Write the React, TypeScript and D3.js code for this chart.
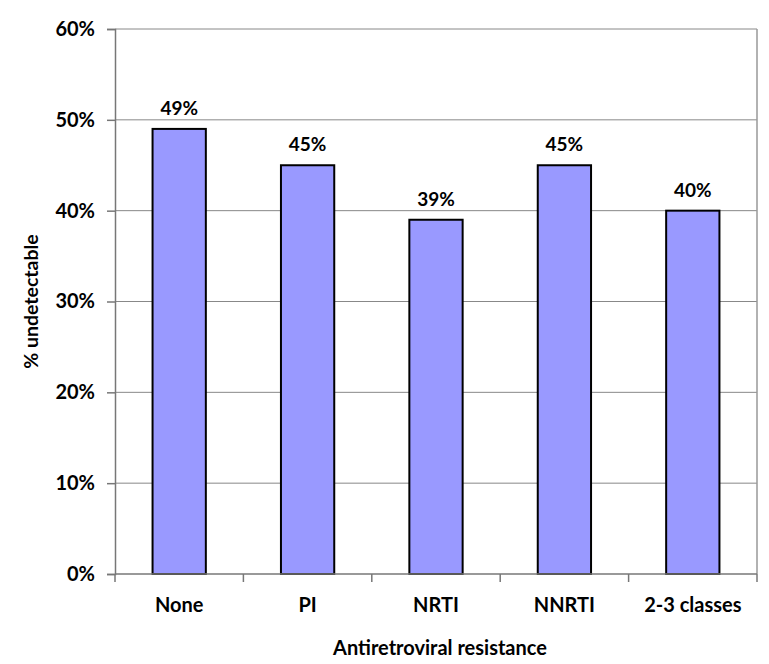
import React, { useRef, useEffect } from 'react';
import * as d3 from 'd3';

const categories = ['None', 'PI', 'NRTI', 'NNRTI', '2-3 classes'];
const values = [49, 45, 39, 45, 40];
const yTicks = [0, 10, 20, 30, 40, 50, 60];

const FONT = 'Lato, "Open Sans", sans-serif';

const App: React.FC = () => {
  const svgRef = useRef<SVGSVGElement>(null);
  const width = 769;
  const height = 664;

  useEffect(() => {
    if (!svgRef.current) return;
    const svg = d3.select(svgRef.current);
    svg.selectAll('*').remove();

    const margin = { top: 29, right: 12, bottom: 90, left: 115 };
    const innerWidth = width - margin.left - margin.right;
    const innerHeight = height - margin.top - margin.bottom;

    const x = d3.scaleBand<string>()
      .domain(categories)
      .range([0, innerWidth])
      .paddingInner(0.585)
      .paddingOuter(0.2925);

    const y = d3.scaleLinear().domain([0, 60]).range([innerHeight, 0]);

    const g = svg.append('g').attr('transform', `translate(${margin.left},${margin.top})`);

    // gridlines
    g.append('g')
      .selectAll('line')
      .data(yTicks.filter(t => t > 0))
      .enter()
      .append('line')
      .attr('x1', 0)
      .attr('x2', innerWidth)
      .attr('y1', d => y(d))
      .attr('y2', d => y(d))
      .attr('stroke', '#888')
      .attr('stroke-width', 1);

    // right border
    g.append('line')
      .attr('x1', innerWidth)
      .attr('x2', innerWidth)
      .attr('y1', 0)
      .attr('y2', innerHeight)
      .attr('stroke', '#999')
      .attr('stroke-width', 1.5);

    // bars
    g.selectAll('.bar')
      .data(values)
      .enter()
      .append('rect')
      .attr('x', (_d, i) => x(categories[i]) as number)
      .attr('y', d => y(d))
      .attr('width', x.bandwidth())
      .attr('height', d => innerHeight - y(d))
      .attr('fill', '#9999FF')
      .attr('stroke', '#000')
      .attr('stroke-width', 2);

    // value labels
    g.selectAll('.val')
      .data(values)
      .enter()
      .append('text')
      .attr('x', (_d, i) => (x(categories[i]) as number) + x.bandwidth() / 2)
      .attr('y', d => y(d) - 14)
      .attr('text-anchor', 'middle')
      .style('font-family', FONT)
      .style('font-weight', 'bold')
      .style('font-size', '19px')
      .text(d => `${d}%`);

    // y axis
    const yAxis = g.append('g')
      .call(d3.axisLeft(y).tickValues(yTicks).tickSize(8).tickPadding(12).tickFormat(d => `${d}%`));
    yAxis.select('.domain').attr('stroke', '#777').attr('stroke-width', 1.5);
    yAxis.selectAll('.tick line').attr('stroke', '#777').attr('stroke-width', 1.5);
    yAxis.selectAll('text')
      .style('font-family', FONT)
      .style('font-weight', 'bold')
      .style('font-size', '20px')
      .attr('fill', '#000');

    // x axis
    const xAxisG = g.append('g').attr('transform', `translate(0,${innerHeight})`);
    xAxisG.append('line')
      .attr('x1', 0)
      .attr('x2', innerWidth)
      .attr('stroke', '#777')
      .attr('stroke-width', 1.5);
    const boundaries = d3.range(categories.length + 1).map(i => i * innerWidth / categories.length);
    xAxisG.selectAll('.xt')
      .data(boundaries)
      .enter()
      .append('line')
      .attr('x1', d => d)
      .attr('x2', d => d)
      .attr('y1', 0)
      .attr('y2', 8)
      .attr('stroke', '#777')
      .attr('stroke-width', 1.5);
    xAxisG.selectAll('.xl')
      .data(categories)
      .enter()
      .append('text')
      .attr('x', d => (x(d) as number) + x.bandwidth() / 2)
      .attr('y', 38)
      .attr('text-anchor', 'middle')
      .style('font-family', FONT)
      .style('font-weight', 'bold')
      .style('font-size', '20px')
      .text(d => d);

    // axis titles
    svg.append('text')
      .attr('x', margin.left + innerWidth / 2 + 4)
      .attr('y', 655)
      .attr('text-anchor', 'middle')
      .style('font-family', FONT)
      .style('font-weight', 'bold')
      .style('font-size', '20px')
      .text('Antiretroviral resistance');

    svg.append('text')
      .attr('transform', `translate(38,${margin.top + innerHeight / 2}) rotate(-90)`)
      .attr('text-anchor', 'middle')
      .style('font-family', FONT)
      .style('font-weight', 'bold')
      .style('font-size', '19.5px')
      .text('% undetectable');
  }, []);

  return (
    <svg
      ref={svgRef}
      width={width}
      height={height}
      style={{ position: 'absolute', left: 0, top: 0, background: '#fff' }}
    />
  );
};

export default App;
